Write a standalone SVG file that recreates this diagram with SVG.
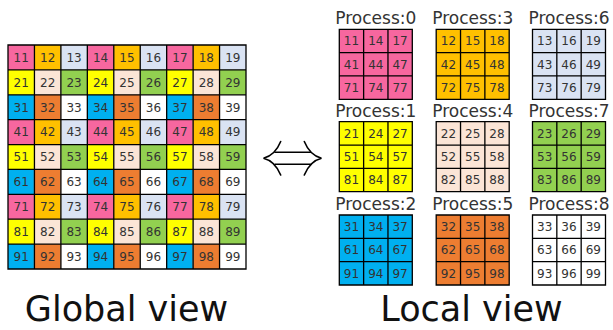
<svg xmlns="http://www.w3.org/2000/svg" width="613" height="330" viewBox="0 0 613 330">
<style>
.n{font-family:"DejaVu Sans",Verdana,sans-serif;font-size:12px;fill:#333;text-anchor:middle}
.lb{font-family:"DejaVu Sans",Verdana,sans-serif;font-size:17px;fill:#333;text-anchor:middle}
.tt{font-family:"DejaVu Sans",Verdana,sans-serif;font-size:35px;fill:#111;text-anchor:middle}
.gl{fill:none;stroke:#000;stroke-width:1.3}
.ar{fill:none;stroke:#000;stroke-width:1.6;stroke-linecap:round}
</style>
<defs>
<pattern id="tile" patternUnits="userSpaceOnUse" x="8" y="45" width="79.333" height="74.667">
<rect x="0" y="0" width="26.444" height="24.889" fill="#F7679F"/>
<rect x="26.444" y="0" width="26.445" height="24.889" fill="#FFC000"/>
<rect x="52.889" y="0" width="26.444" height="24.889" fill="#DAE3F3"/>
<rect x="0" y="24.889" width="26.444" height="24.889" fill="#FFFF00"/>
<rect x="26.444" y="24.889" width="26.445" height="24.889" fill="#FBE5D6"/>
<rect x="52.889" y="24.889" width="26.444" height="24.889" fill="#92D050"/>
<rect x="0" y="49.778" width="26.444" height="24.889" fill="#00B0F0"/>
<rect x="26.444" y="49.778" width="26.445" height="24.889" fill="#ED7D31"/>
<rect x="52.889" y="49.778" width="26.444" height="24.889" fill="#FFFFFF"/>
</pattern>
<symbol id="g3" overflow="visible">
<path class="gl" d="M0,0H73V70H0Z M24.33,0V70 M48.67,0V70 M0,23.33H73 M0,46.67H73"/>
</symbol>
</defs>

<g id="global-view">
<rect x="8" y="45" width="238" height="224" fill="url(#tile)"/>
<path class="gl" d="M8,45H246V269H8Z M34.44,45V269 M60.89,45V269 M87.33,45V269 M113.78,45V269 M140.22,45V269 M166.67,45V269 M193.11,45V269 M219.56,45V269 M8,69.89H246 M8,94.78H246 M8,119.67H246 M8,144.56H246 M8,169.44H246 M8,194.33H246 M8,219.22H246 M8,244.11H246"/>
<g transform="translate(0,61.7)"><text class="n" x="21.2">11</text><text class="n" x="47.7">12</text><text class="n" x="74.1">13</text><text class="n" x="100.6">14</text><text class="n" x="127">15</text><text class="n" x="153.4">16</text><text class="n" x="179.9">17</text><text class="n" x="206.3">18</text><text class="n" x="232.8">19</text></g>
<g transform="translate(0,86.6)"><text class="n" x="21.2">21</text><text class="n" x="47.7">22</text><text class="n" x="74.1">23</text><text class="n" x="100.6">24</text><text class="n" x="127">25</text><text class="n" x="153.4">26</text><text class="n" x="179.9">27</text><text class="n" x="206.3">28</text><text class="n" x="232.8">29</text></g>
<g transform="translate(0,111.5)"><text class="n" x="21.2">31</text><text class="n" x="47.7">32</text><text class="n" x="74.1">33</text><text class="n" x="100.6">34</text><text class="n" x="127">35</text><text class="n" x="153.4">36</text><text class="n" x="179.9">37</text><text class="n" x="206.3">38</text><text class="n" x="232.8">39</text></g>
<g transform="translate(0,136.4)"><text class="n" x="21.2">41</text><text class="n" x="47.7">42</text><text class="n" x="74.1">43</text><text class="n" x="100.6">44</text><text class="n" x="127">45</text><text class="n" x="153.4">46</text><text class="n" x="179.9">47</text><text class="n" x="206.3">48</text><text class="n" x="232.8">49</text></g>
<g transform="translate(0,161.3)"><text class="n" x="21.2">51</text><text class="n" x="47.7">52</text><text class="n" x="74.1">53</text><text class="n" x="100.6">54</text><text class="n" x="127">55</text><text class="n" x="153.4">56</text><text class="n" x="179.9">57</text><text class="n" x="206.3">58</text><text class="n" x="232.8">59</text></g>
<g transform="translate(0,186.2)"><text class="n" x="21.2">61</text><text class="n" x="47.7">62</text><text class="n" x="74.1">63</text><text class="n" x="100.6">64</text><text class="n" x="127">65</text><text class="n" x="153.4">66</text><text class="n" x="179.9">67</text><text class="n" x="206.3">68</text><text class="n" x="232.8">69</text></g>
<g transform="translate(0,211.1)"><text class="n" x="21.2">71</text><text class="n" x="47.7">72</text><text class="n" x="74.1">73</text><text class="n" x="100.6">74</text><text class="n" x="127">75</text><text class="n" x="153.4">76</text><text class="n" x="179.9">77</text><text class="n" x="206.3">78</text><text class="n" x="232.8">79</text></g>
<g transform="translate(0,236)"><text class="n" x="21.2">81</text><text class="n" x="47.7">82</text><text class="n" x="74.1">83</text><text class="n" x="100.6">84</text><text class="n" x="127">85</text><text class="n" x="153.4">86</text><text class="n" x="179.9">87</text><text class="n" x="206.3">88</text><text class="n" x="232.8">89</text></g>
<g transform="translate(0,260.9)"><text class="n" x="21.2">91</text><text class="n" x="47.7">92</text><text class="n" x="74.1">93</text><text class="n" x="100.6">94</text><text class="n" x="127">95</text><text class="n" x="153.4">96</text><text class="n" x="179.9">97</text><text class="n" x="206.3">98</text><text class="n" x="232.8">99</text></g>
<text class="tt" x="126.5" y="321">Global view</text>
</g>

<g id="connectors">
<path class="ar" d="M275,152.2H310.5 M275,164.2H310.5"/>
<path class="ar" d="M280.7,141.5Q275,155.5 263.5,158.2Q275,161 280.7,175"/>
<path class="ar" d="M304.3,141.5Q310,155.5 321.5,158.2Q310,161 304.3,175"/>
</g>

<g id="process-0" transform="translate(339.3,29.3)">
<text class="lb" x="36.5" y="-5">Process:0</text>
<rect width="73" height="70" fill="#F7679F"/><use href="#g3"/>
<text class="n" x="12.2" y="16">11</text><text class="n" x="36.5" y="16">14</text><text class="n" x="60.8" y="16">17</text>
<text class="n" x="12.2" y="39.3">41</text><text class="n" x="36.5" y="39.3">44</text><text class="n" x="60.8" y="39.3">47</text>
<text class="n" x="12.2" y="62.6">71</text><text class="n" x="36.5" y="62.6">74</text><text class="n" x="60.8" y="62.6">77</text>
</g>
<g id="process-3" transform="translate(436.2,29.3)">
<text class="lb" x="36.5" y="-5">Process:3</text>
<rect width="73" height="70" fill="#FFC000"/><use href="#g3"/>
<text class="n" x="12.2" y="16">12</text><text class="n" x="36.5" y="16">15</text><text class="n" x="60.8" y="16">18</text>
<text class="n" x="12.2" y="39.3">42</text><text class="n" x="36.5" y="39.3">45</text><text class="n" x="60.8" y="39.3">48</text>
<text class="n" x="12.2" y="62.6">72</text><text class="n" x="36.5" y="62.6">75</text><text class="n" x="60.8" y="62.6">78</text>
</g>
<g id="process-6" transform="translate(532.5,29.3)">
<text class="lb" x="36.5" y="-5">Process:6</text>
<rect width="73" height="70" fill="#DAE3F3"/><use href="#g3"/>
<text class="n" x="12.2" y="16">13</text><text class="n" x="36.5" y="16">16</text><text class="n" x="60.8" y="16">19</text>
<text class="n" x="12.2" y="39.3">43</text><text class="n" x="36.5" y="39.3">46</text><text class="n" x="60.8" y="39.3">49</text>
<text class="n" x="12.2" y="62.6">73</text><text class="n" x="36.5" y="62.6">76</text><text class="n" x="60.8" y="62.6">79</text>
</g>
<g id="process-1" transform="translate(339.3,121.7)">
<text class="lb" x="36.5" y="-5">Process:1</text>
<rect width="73" height="70" fill="#FFFF00"/><use href="#g3"/>
<text class="n" x="12.2" y="16">21</text><text class="n" x="36.5" y="16">24</text><text class="n" x="60.8" y="16">27</text>
<text class="n" x="12.2" y="39.3">51</text><text class="n" x="36.5" y="39.3">54</text><text class="n" x="60.8" y="39.3">57</text>
<text class="n" x="12.2" y="62.6">81</text><text class="n" x="36.5" y="62.6">84</text><text class="n" x="60.8" y="62.6">87</text>
</g>
<g id="process-4" transform="translate(436.2,121.7)">
<text class="lb" x="36.5" y="-5">Process:4</text>
<rect width="73" height="70" fill="#FBE5D6"/><use href="#g3"/>
<text class="n" x="12.2" y="16">22</text><text class="n" x="36.5" y="16">25</text><text class="n" x="60.8" y="16">28</text>
<text class="n" x="12.2" y="39.3">52</text><text class="n" x="36.5" y="39.3">55</text><text class="n" x="60.8" y="39.3">58</text>
<text class="n" x="12.2" y="62.6">82</text><text class="n" x="36.5" y="62.6">85</text><text class="n" x="60.8" y="62.6">88</text>
</g>
<g id="process-7" transform="translate(532.5,121.7)">
<text class="lb" x="36.5" y="-5">Process:7</text>
<rect width="73" height="70" fill="#92D050"/><use href="#g3"/>
<text class="n" x="12.2" y="16">23</text><text class="n" x="36.5" y="16">26</text><text class="n" x="60.8" y="16">29</text>
<text class="n" x="12.2" y="39.3">53</text><text class="n" x="36.5" y="39.3">56</text><text class="n" x="60.8" y="39.3">59</text>
<text class="n" x="12.2" y="62.6">83</text><text class="n" x="36.5" y="62.6">86</text><text class="n" x="60.8" y="62.6">89</text>
</g>
<g id="process-2" transform="translate(339.3,215)">
<text class="lb" x="36.5" y="-5">Process:2</text>
<rect width="73" height="70" fill="#00B0F0"/><use href="#g3"/>
<text class="n" x="12.2" y="16">31</text><text class="n" x="36.5" y="16">34</text><text class="n" x="60.8" y="16">37</text>
<text class="n" x="12.2" y="39.3">61</text><text class="n" x="36.5" y="39.3">64</text><text class="n" x="60.8" y="39.3">67</text>
<text class="n" x="12.2" y="62.6">91</text><text class="n" x="36.5" y="62.6">94</text><text class="n" x="60.8" y="62.6">97</text>
</g>
<g id="process-5" transform="translate(436.2,215)">
<text class="lb" x="36.5" y="-5">Process:5</text>
<rect width="73" height="70" fill="#ED7D31"/><use href="#g3"/>
<text class="n" x="12.2" y="16">32</text><text class="n" x="36.5" y="16">35</text><text class="n" x="60.8" y="16">38</text>
<text class="n" x="12.2" y="39.3">62</text><text class="n" x="36.5" y="39.3">65</text><text class="n" x="60.8" y="39.3">68</text>
<text class="n" x="12.2" y="62.6">92</text><text class="n" x="36.5" y="62.6">95</text><text class="n" x="60.8" y="62.6">98</text>
</g>
<g id="process-8" transform="translate(532.5,215)">
<text class="lb" x="36.5" y="-5">Process:8</text>
<rect width="73" height="70" fill="#FFFFFF"/><use href="#g3"/>
<text class="n" x="12.2" y="16">33</text><text class="n" x="36.5" y="16">36</text><text class="n" x="60.8" y="16">39</text>
<text class="n" x="12.2" y="39.3">63</text><text class="n" x="36.5" y="39.3">66</text><text class="n" x="60.8" y="39.3">69</text>
<text class="n" x="12.2" y="62.6">93</text><text class="n" x="36.5" y="62.6">96</text><text class="n" x="60.8" y="62.6">99</text>
</g>

<text class="tt" x="471.5" y="321">Local view</text>
</svg>
